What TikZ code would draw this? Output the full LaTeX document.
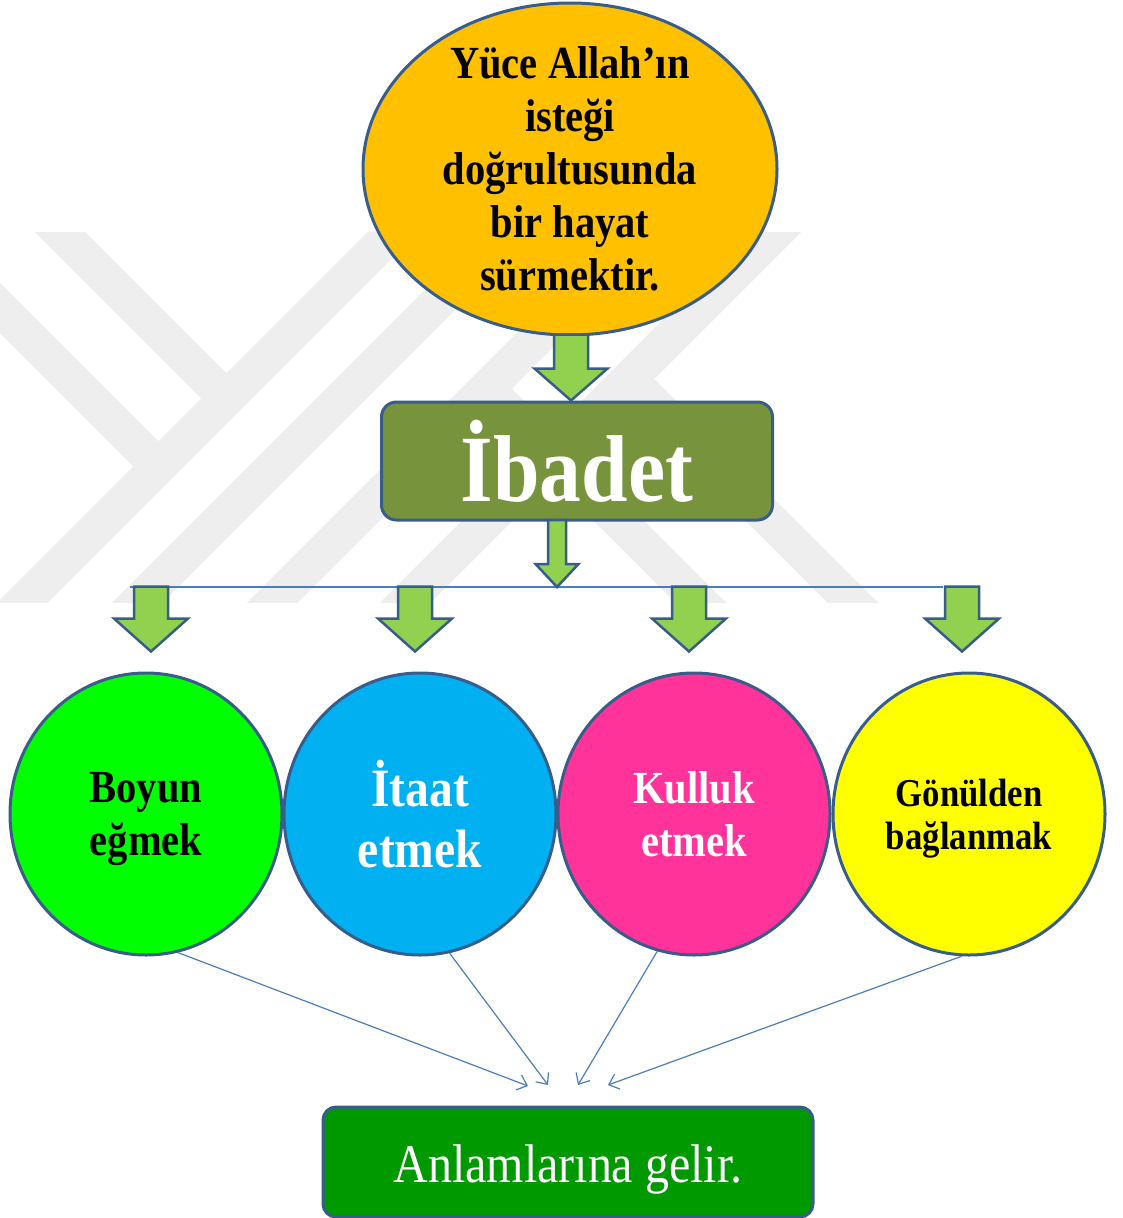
\documentclass[tikz,border=0pt]{standalone}
\usepackage{fontspec}
\setmainfont{Liberation Serif}[FakeStretch=0.88]
\usetikzlibrary{shapes.geometric,arrows.meta}

\definecolor{kenar}{HTML}{385D8A}
\definecolor{turuncu}{HTML}{FFC000}
\definecolor{zeytin}{HTML}{77933C}
\definecolor{okyesil}{HTML}{92D050}
\definecolor{cizgi}{HTML}{4A7EBB}
\definecolor{yesil}{HTML}{00FF00}
\definecolor{mavi}{HTML}{00B0F0}
\definecolor{pembe}{HTML}{FF3399}
\definecolor{sari}{HTML}{FFFF00}
\definecolor{koyuyesil}{HTML}{009900}
\definecolor{filigran}{HTML}{EEEEEE}

% block arrow: tip, shaft half width, head half width, length, head length
\newcommand{\blockarrow}[5]{%
  \draw[fat] #1 -- ++(-#3,-#5) -- ++(#3-#2,0) -- ++(0,#5-#4) -- ++(2*#2,0)
    -- ++(0,#4-#5) -- ++(#3-#2,0) -- cycle;}

\tikzset{
  circ/.style={ellipse, draw=kenar, line width=3pt, minimum width=272pt,
    minimum height=282pt, inner sep=0pt, align=center},
  box/.style={rectangle, draw=kenar, line width=3pt, rounded corners=15pt, align=center},
  fat/.style={fill=okyesil, draw=kenar, line width=2.5pt, line join=miter},
  thin/.style={draw=cizgi, line width=1.2pt, -{Straight Barb[length=9pt,width=16pt]}},
  band/.style={draw=filigran, line width=36pt}
}

\begin{document}
\begin{tikzpicture}[x=1pt,y=-1pt]
  \useasboundingbox (0,0) rectangle (1123,1218);

  % watermark
  \begin{scope}
    \clip (0,232) rectangle (1123,602);
    \foreach \c in {625,740,875,1008}
      \draw[band] ({\c-200},200) -- ({\c-650},650);
    \draw[band] (41,213) -- (226,398);
    \draw[band] (-50,258) -- (158,466);
    \draw[band] (629,379) -- (900,650);
    \draw[band] (486,388) -- (750,652);
  \end{scope}

  \node[ellipse, draw=kenar, fill=turuncu, line width=3pt, minimum width=414pt,
    minimum height=332pt, inner sep=0pt, inner ysep=-40pt, align=center,
    text depth=-6pt, font=\bfseries\fontsize{46}{53}\selectfont]
    (Hayat) at (570,169) {Yüce Allah’ın\\isteği\\doğrultusunda\\bir hayat\\sürmektir.};
  \node[box, fill=zeytin, minimum width=391pt, minimum height=118pt, text=white,
    font=\bfseries\fontsize{95}{95}\selectfont] (Ibadet) at (577,461) {İbadet};

  \node[circ, fill=yesil, text depth=-4pt, font=\bfseries\fontsize{46}{53}\selectfont]
    (Boyun) at (146,814) {Boyun\\eğmek};
  \node[circ, fill=mavi, text=white, font=\bfseries\fontsize{54}{61}\selectfont]
    (Itaat) at (420,814) {İtaat\\etmek};
  \node[circ, fill=pembe, text=white, font=\bfseries\fontsize{46}{53}\selectfont]
    (Kulluk) at (694,814) {Kulluk\\etmek};
  \node[circ, fill=sari, text depth=-3.5pt, font=\bfseries\fontsize{39.5}{43}\selectfont]
    (Gonul) at (969,814) {Gönülden\\bağlanmak};

  \node[box, fill=koyuyesil, minimum width=490pt, minimum height=110pt, text=white,
    rounded corners=13pt, text height=53pt, text depth=13pt,
    font=\fontsize{54.5}{60}\selectfont] (Anlam) at (568,1162) {Anlamlarına gelir.};

  \coordinate (BarLeft) at (130,587);
  \coordinate (BarRight) at (943,587);
  \coordinate (Bar) at (557,587);
  \draw[cizgi, line width=1.5pt] (BarLeft) -- (BarRight);

  \blockarrow{([xshift=-6pt]Ibadet.north)}{17}{36.5}{66}{32}
  \blockarrow{(Bar)}{9}{21.5}{67}{23}
  \foreach \n/\dx in {Boyun/5,Itaat/-5,Kulluk/-5,Gonul/-7}{
    \blockarrow{([xshift=\dx pt,yshift=20pt]\n.north)}{17}{37}{65}{33}
  }

  \coordinate (E1) at (528,1086);
  \coordinate (E2) at (548,1085);
  \coordinate (E3) at (578,1085);
  \coordinate (E4) at (608,1085);
  \draw[thin] (Boyun.-77) -- (E1);
  \draw[thin] (Itaat.-78) -- (E2);
  \draw[thin] (Kulluk.-105) -- (E3);
  \draw[thin] (Gonul.-93) -- (E4);
\end{tikzpicture}
\end{document}
